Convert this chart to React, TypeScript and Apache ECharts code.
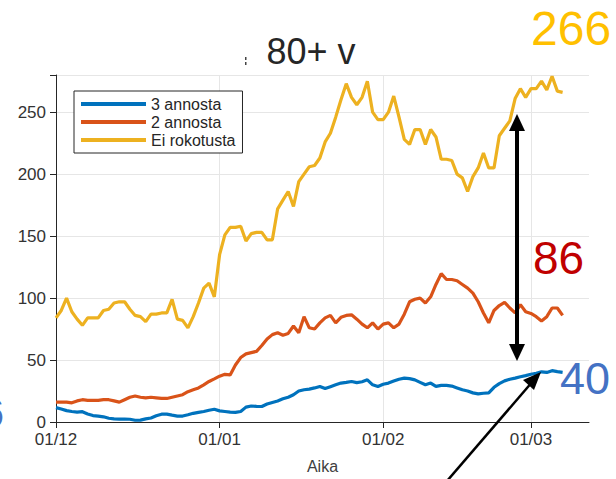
import React, { useEffect, useRef } from "react";
import * as echarts from "echarts";

// Daily values from 1 Dec to 7 Mar
const threeDoses = [
  11.6, 10.5, 9.2, 8.5, 8, 8.3, 6.5, 5.2, 4.8, 4.2, 3, 2.5, 2.4, 2.4, 2.2, 1.4, 1.5, 2.5, 3.2, 5,
  6.3, 6.3, 5.5, 4.8, 4.8, 5.8, 7, 7.8, 8.5, 9.5, 10.3, 9, 8.5, 8, 7.8, 8.5, 12, 12.9, 12.6, 12.5,
  14.5, 15.8, 17, 18.7, 20, 22, 25, 26, 26.5, 27.5, 28.7, 27, 28.5, 30, 31.4, 32, 32.7, 31.8, 32.5, 34,
  30, 28.7, 30.5, 31.4, 33, 34.5, 35.4, 35, 34, 32, 30, 31.4, 28.7, 29.5, 29.5, 29, 27.5, 26, 25, 23.5,
  22.7, 23.2, 23.5, 28, 31, 33.2, 34.5, 35.4, 36.5, 37.4, 38.5, 39.3, 40.5, 40, 41.4, 40.6, 40,
];
const twoDoses = [
  16, 16, 16, 15.5, 17, 18, 17.5, 17.5, 17.5, 18, 18, 17, 16, 18, 20, 21, 20, 19.5, 20, 19.5,
  19, 19, 20, 21, 22, 24.5, 26, 27.5, 30, 32.7, 34.8, 37, 38.5, 38, 46, 52, 55, 56, 57, 61.7,
  67, 70.5, 72, 70, 71.5, 77.5, 72, 85, 76, 75, 80, 84, 86, 80, 84.5, 86, 86.5, 83, 79, 76,
  80, 75, 79, 80, 76, 79, 87, 97, 99, 100, 96, 101, 111, 119.7, 115, 115, 114, 111, 108, 104,
  97, 88, 80, 90, 94, 96.5, 92, 88, 94.7, 89, 87.6, 85, 81.5, 85, 92, 92, 86,
];
const unvaccinated = [
  84, 90, 100, 89, 83, 78, 84, 84, 84, 90, 91, 96, 97, 97, 91, 86, 85, 81, 87, 87,
  88, 88, 99, 83, 82, 76, 85, 96, 108, 112, 101, 135, 151, 157, 157, 158, 146, 152, 153, 153,
  147, 147, 172, 179, 186, 174, 194, 200, 206, 207, 213, 226, 233, 246, 260, 273, 262, 256, 262, 275,
  250, 244, 244, 250, 263, 246, 228, 224, 236, 236, 224, 236, 230, 212, 212, 211, 200, 197, 186, 198,
  205, 217, 205, 205, 231, 237, 243, 261, 269, 262, 269, 269, 275, 268, 279, 267, 266,
];
const seriesNames = ["3 annosta", "2 annosta", "Ei rokotusta"];
const seriesColors = ["#0072BD", "#D95319", "#EDB120"];
const yTicks = [0, 50, 100, 150, 200, 250];

// Day categories 1 Dec .. 12 Mar (dd/mm)
const monthLengths = [
  { m: 12, days: 31 },
  { m: 1, days: 31 },
  { m: 2, days: 28 },
  { m: 3, days: 12 },
];
const categories: string[] = [];
monthLengths.forEach(({ m, days }) => {
  for (let d = 1; d <= days; d++) {
    categories.push(String(d).padStart(2, "0") + "/" + String(m).padStart(2, "0"));
  }
});

const isMonthStart = (_i: number, v: string) => v.startsWith("01/");

export default function App() {
  const ref = useRef<HTMLDivElement>(null);
  useEffect(() => {
    if (!ref.current) return;
    const chart = echarts.init(ref.current, undefined, { renderer: "svg" });
    const axisColor = "#262626";
    const labelColor = "#333333";
    const font = "Liberation Sans, Arial, sans-serif";
    const data = [threeDoses, twoDoses, unvaccinated];
    chart.setOption({
      animation: false,
      backgroundColor: "#ffffff",
      textStyle: { fontFamily: font },
      grid: { left: 56, right: 27, top: 75, bottom: 51 },
      legend: {
        orient: "vertical",
        left: 74,
        top: 91,
        padding: [5, 7, 5, 7],
        itemWidth: 65,
        itemHeight: 4,
        itemGap: 2,
        icon: "rect",
        borderColor: axisColor,
        borderWidth: 1,
        backgroundColor: "#ffffff",
        borderRadius: 0,
        data: seriesNames,
        textStyle: { fontSize: 16, lineHeight: 16, color: axisColor, fontFamily: font },
      },
      xAxis: {
        type: "category",
        data: categories,
        boundaryGap: false,
        name: "Aika",
        nameLocation: "middle",
        nameGap: 36,
        nameTextStyle: { fontSize: 16, color: "#404040", fontFamily: font },
        axisLine: { lineStyle: { color: axisColor, width: 1 } },
        axisTick: { show: true, interval: isMonthStart, length: 6, inside: false, lineStyle: { color: axisColor } },
        axisLabel: { interval: isMonthStart, fontSize: 17, color: labelColor, margin: 9, fontFamily: font,
          formatter: (v: string) => v },
        splitLine: { show: true, interval: isMonthStart, lineStyle: { color: "#e6e6e6", width: 1 } },
      },
      yAxis: {
        type: "value",
        min: 0,
        max: 280,
        interval: 50,
        axisLine: { show: true, lineStyle: { color: axisColor, width: 1 } },
        axisTick: { show: true, length: 6, lineStyle: { color: axisColor } },
        axisLabel: {
          fontSize: 17,
          color: labelColor,
          margin: 10,
          fontFamily: font,
          formatter: (v: number) => (yTicks.includes(v) ? String(v) : ""),
        },
        splitLine: { show: true, lineStyle: { color: "#e6e6e6", width: 1 } },
      },
      series: seriesNames.map((name, i) => ({
        name,
        type: "line",
        data: data[i],
        showSymbol: false,
        symbol: "none",
        lineStyle: { color: seriesColors[i], width: 3.2 },
        itemStyle: { color: seriesColors[i] },
        z: 2 + i,
      })),
      graphic: [
        {
          type: "text",
          x: 311,
          y: 51,
          style: { text: "80+ v", fontSize: 36, fill: "#262626", fontFamily: font, textAlign: "center", textVerticalAlign: "middle" },
        },
        { type: "rect", shape: { x: 245, y: 57, width: 1.5, height: 3 }, style: { fill: "#444" } },
        { type: "rect", shape: { x: 245, y: 62, width: 1.5, height: 3 }, style: { fill: "#444" } },
        {
          type: "text",
          x: 531,
          y: 28,
          style: { text: "266", fontSize: 48, fill: "#FFC000", fontFamily: font, textAlign: "left", textVerticalAlign: "middle" },
        },
        {
          type: "text",
          x: 533,
          y: 258,
          style: { text: "86", fontSize: 46, fill: "#C00000", fontFamily: font, textAlign: "left", textVerticalAlign: "middle" },
        },
        {
          type: "text",
          x: 560,
          y: 378,
          style: { text: "40", fontSize: 45, fill: "#4472C4", fontFamily: font, textAlign: "left", textVerticalAlign: "middle" },
        },
        {
          type: "text",
          x: 4,
          y: 413,
          style: { text: "6", fontSize: 40, fill: "#4472C4", fontFamily: font, textAlign: "right", textVerticalAlign: "middle" },
        },
        // vertical double arrow
        { type: "line", shape: { x1: 517, y1: 128, x2: 517, y2: 347 }, style: { stroke: "#000", lineWidth: 4 }, z: 10 },
        { type: "polygon", shape: { points: [[517, 114], [509, 131], [525, 131]] }, style: { fill: "#000" }, z: 10 },
        { type: "polygon", shape: { points: [[517, 361], [509, 344], [525, 344]] }, style: { fill: "#000" }, z: 10 },
        // diagonal arrow
        { type: "line", shape: { x1: 447, y1: 481, x2: 533, y2: 381 }, style: { stroke: "#000", lineWidth: 2.5 }, z: 10 },
        { type: "polygon", shape: { points: [[541, 372], [523, 380], [534, 390]] }, style: { fill: "#000" }, z: 10 },
      ],
    });
    return () => chart.dispose();
  }, []);
  return (
    <div
      ref={ref}
      style={{ position: "fixed", left: 0, top: 0, width: 616, height: 479, background: "#fff" }}
    />
  );
}
